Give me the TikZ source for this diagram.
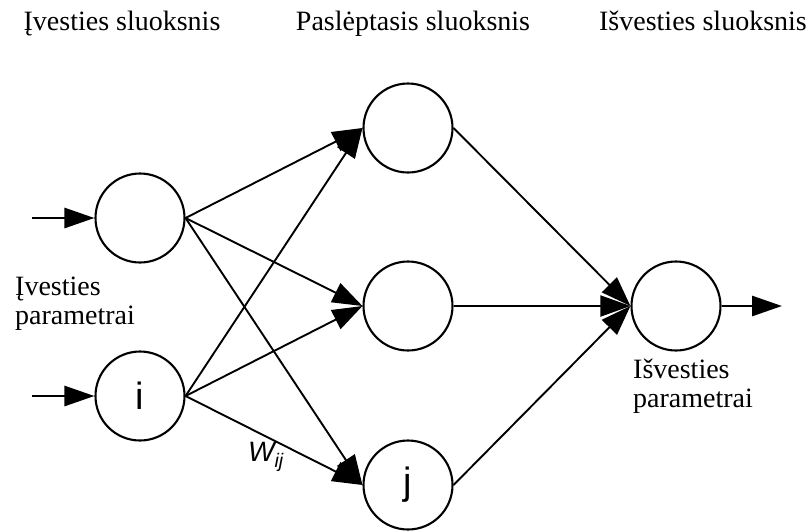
\documentclass[tikz,border=0pt]{standalone}
\usepackage{fontspec}
\setmainfont{Liberation Serif}
\newfontfamily\arialfont{Liberation Sans}
\usetikzlibrary{arrows.meta}

\tikzset{
    neuron/.style={draw, circle, line width=2.1pt, minimum size=89pt, inner sep=0pt,
        font={\arialfont\fontsize{38}{40}\selectfont}},
    edge/.style={line width=1.9pt, -{Triangle[length=30pt,width=21pt]}},
    ioedge/.style={line width=2.8pt, -{Triangle[length=30pt,width=20pt]}},
    layertext/.style={anchor=base, inner sep=0pt, font={\fontsize{28}{28.5}\selectfont}},
    paramtext/.style={anchor=north west, align=left, inner sep=0pt,
        font={\fontsize{28}{28.5}\selectfont}}
}

\begin{document}
\begin{tikzpicture}[x=1pt, y=-1pt]
    \useasboundingbox (0,0) rectangle (811,531);

    % sluoksniu pavadinimai
    \node[layertext] (tin) at (122,30) {Įvesties sluoksnis};
    \node[layertext] (thid) at (413,30) {Paslėptasis sluoksnis};
    \node[layertext] (tout) at (703,30) {Išvesties sluoksnis};

    % ivesties sluoksnis
    \node[neuron] (in1) at (140,218) {};
    \node[neuron] (in2) at (140,396) {i};

    % pasleptasis sluoksnis
    \node[neuron] (h1) at (408,128) {};
    \node[neuron] (h2) at (408,306) {};
    \node[neuron] (h3) at (408,485) {j};

    % isvesties sluoksnis
    \node[neuron] (out) at (676,306) {};

    % ivestys ir isvestis
    \coordinate (x1) at (32,218);
    \coordinate (x2) at (32,396);
    \coordinate (y1) at (782,306);
    \draw[ioedge] (x1) -- (in1.west);
    \draw[ioedge] (x2) -- (in2.west);
    \draw[ioedge] (out.east) -- (y1);

    % rysiai tarp ivesties ir pasleptojo sluoksnio
    \draw[edge] (in1.east) -- (h1.west);
    \draw[edge] (in1.east) -- (h2.west);
    \draw[edge] (in1.east) -- (h3.west);
    \draw[edge] (in2.east) -- (h1.west);
    \draw[edge] (in2.east) -- (h2.west);
    \draw[edge] (in2.east) -- (h3.west);

    % rysiai i isvesties sluoksni
    \draw[edge] (h1.east) -- (out.west);
    \draw[edge] (h2.east) -- (out.west);
    \draw[edge] (h3.east) -- (out.west);

    % svoris
    \node[font={\arialfont\itshape\fontsize{28}{30}\selectfont}] (wij) at (266,457) {W\textsubscript{ij}};

    % parametru uzrasai
    \node[paramtext] (pin) at (15,277) {Įvesties\\parametrai};
    \node[paramtext] (pout) at (633,359) {Išvesties\\parametrai};
\end{tikzpicture}
\end{document}
